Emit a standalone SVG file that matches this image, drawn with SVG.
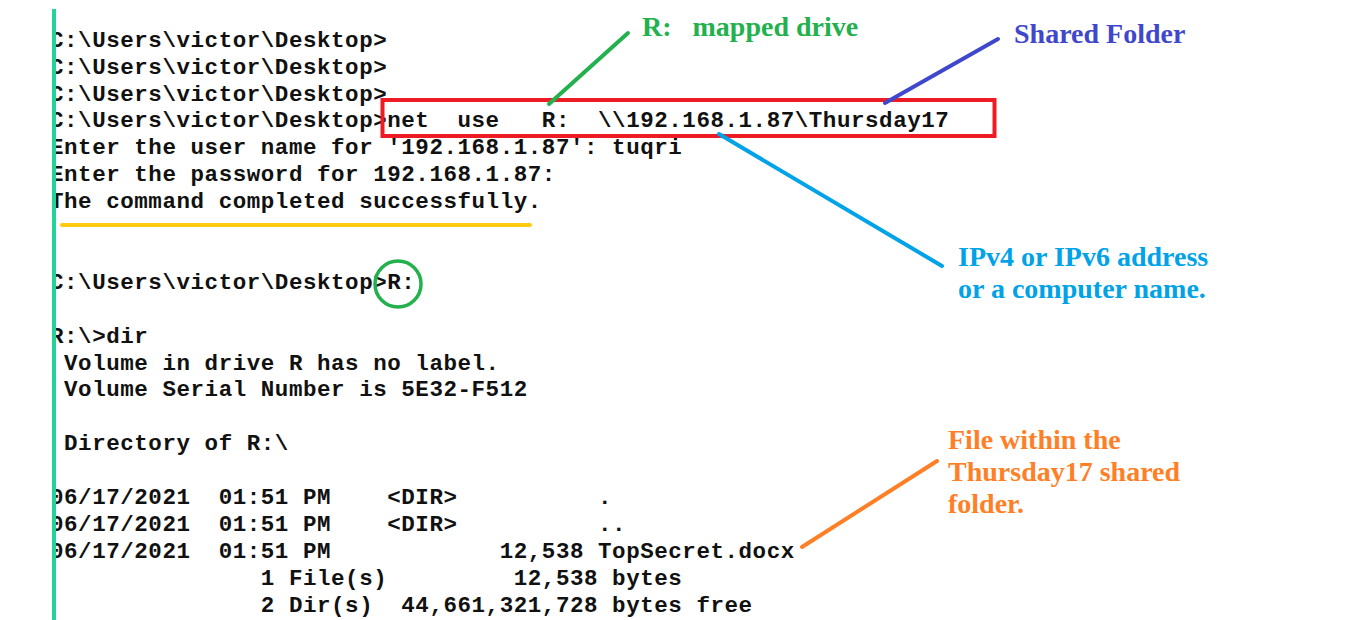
<svg xmlns="http://www.w3.org/2000/svg" width="1362" height="620" viewBox="0 0 1362 620">
<style>
.term{font-family:"Liberation Mono","Courier New",monospace;font-size:22.5px;font-weight:bold;letter-spacing:0.55px;fill:#111;white-space:pre}
.note{font-family:"Liberation Serif","Times New Roman",serif;font-size:28px;font-weight:bold;white-space:pre}
.conn{fill:none;stroke-width:4;stroke-linecap:round}
</style>
<rect x="0" y="0" width="1362" height="620" fill="#ffffff"/>
<g id="terminal">
<text class="term" x="50" y="46.7" xml:space="preserve">C:\Users\victor\Desktop&gt;</text>
<text class="term" x="50" y="73.6" xml:space="preserve">C:\Users\victor\Desktop&gt;</text>
<text class="term" x="50" y="100.5" xml:space="preserve">C:\Users\victor\Desktop&gt;</text>
<text class="term" x="50" y="127.4" xml:space="preserve">C:\Users\victor\Desktop&gt;net  use   R:  \\192.168.1.87\Thursday17</text>
<text class="term" x="50" y="154.3" xml:space="preserve">Enter the user name for '192.168.1.87': tuqri</text>
<text class="term" x="50" y="181.2" xml:space="preserve">Enter the password for 192.168.1.87:</text>
<text class="term" x="50" y="208.1" xml:space="preserve">The command completed successfully.</text>
<text class="term" x="50" y="288.8" xml:space="preserve">C:\Users\victor\Desktop&gt;R:</text>
<text class="term" x="50" y="342.6" xml:space="preserve">R:\&gt;dir</text>
<text class="term" x="50" y="369.5" xml:space="preserve"> Volume in drive R has no label.</text>
<text class="term" x="50" y="396.4" xml:space="preserve"> Volume Serial Number is 5E32-F512</text>
<text class="term" x="50" y="450.2" xml:space="preserve"> Directory of R:\</text>
<text class="term" x="50" y="504.0" xml:space="preserve">06/17/2021  01:51 PM    &lt;DIR&gt;          .</text>
<text class="term" x="50" y="530.9" xml:space="preserve">06/17/2021  01:51 PM    &lt;DIR&gt;          ..</text>
<text class="term" x="50" y="557.8" xml:space="preserve">06/17/2021  01:51 PM            12,538 TopSecret.docx</text>
<text class="term" x="50" y="584.7" xml:space="preserve">               1 File(s)         12,538 bytes</text>
<text class="term" x="50" y="611.6" xml:space="preserve">               2 Dir(s)  44,661,321,728 bytes free</text>
<rect x="0" y="0" width="54" height="620" fill="#ffffff"/>
<rect x="52" y="9" width="4" height="611" fill="#22D49B"/>
</g>
<g id="highlights">
<rect id="command-box" x="382.5" y="100" width="612" height="36" fill="none" stroke="#ED1C24" stroke-width="4"/>
<ellipse id="drive-circle" cx="398" cy="284" rx="23" ry="23" fill="none" stroke="#22B14C" stroke-width="3.5"/>
<line id="success-underline" x1="62" y1="225" x2="530" y2="225" stroke="#FFC90E" stroke-width="4" stroke-linecap="round"/>
</g>
<g id="connectors">
<line class="conn" x1="549" y1="104" x2="628" y2="33" stroke="#22B14C"/>
<line class="conn" x1="885" y1="103" x2="998" y2="39" stroke="#3F48CC"/>
<line class="conn" x1="719" y1="134" x2="942" y2="266" stroke="#00A2E8"/>
<line class="conn" x1="802" y1="547" x2="937" y2="461" stroke="#FF7F27"/>
</g>
<g id="label-mapped-drive">
<text class="note" x="642" y="36" fill="#22B14C" xml:space="preserve">R:   mapped drive</text>
</g>
<g id="label-shared-folder">
<text class="note" x="1014" y="43" fill="#3F48CC">Shared Folder</text>
</g>
<g id="label-address">
<text class="note" x="958" y="266" fill="#00A2E8">IPv4 or IPv6 address</text>
<text class="note" x="958" y="298" fill="#00A2E8">or a computer name.</text>
</g>
<g id="label-file">
<text class="note" x="948" y="449" fill="#FF7F27">File within the</text>
<text class="note" x="948" y="481" fill="#FF7F27">Thursday17 shared</text>
<text class="note" x="948" y="513" fill="#FF7F27">folder.</text>
</g>
</svg>
